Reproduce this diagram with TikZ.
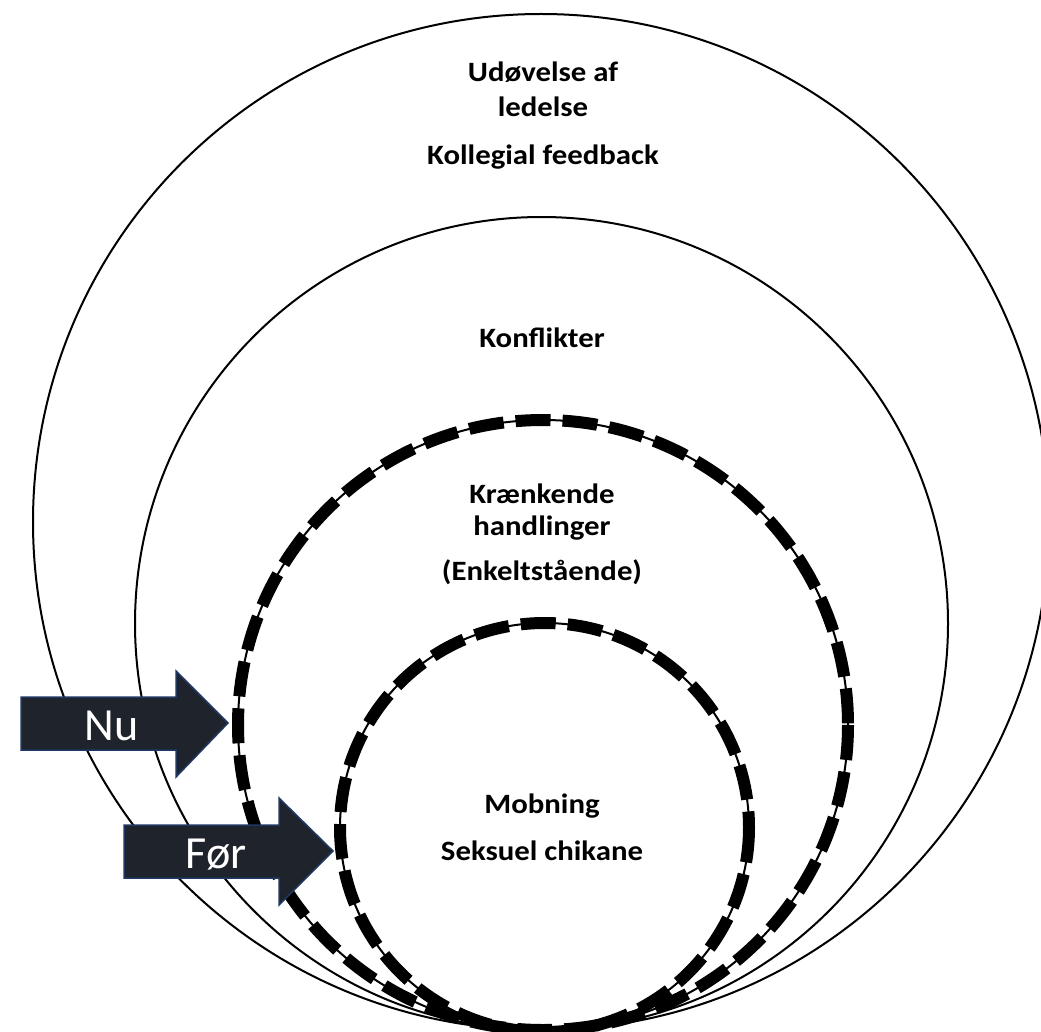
\documentclass[tikz,border=0pt]{standalone}
\usepackage{fontspec}
\newfontfamily\lblfont[FakeStretch=1.1]{Carlito}
\newfontfamily\arrfont{Carlito}
\definecolor{arrfill}{RGB}{31,35,43}
\definecolor{arrdraw}{RGB}{32,56,100}
\begin{document}
\begin{tikzpicture}[x=1pt,y=-1pt,
  ring/.style={draw=black, line width=2pt},
  thinring/.style={draw=black, line width=2pt},
  dashring/.style={draw=black, line width=12pt, dash pattern=on 35pt off 12pt},
  lbl/.style={font=\lblfont\bfseries\fontsize{28}{34}\selectfont, anchor=base, inner sep=0pt},
  arrowshape/.style={fill=arrfill, draw=arrdraw, line width=1.5pt, line join=miter},
  arrtext/.style={font=\arrfont\fontsize{46}{50}\selectfont, text=white, anchor=base, inner sep=0pt}]
\useasboundingbox (0,0) rectangle (1041,1032);
\clip (0,0) rectangle (1041,1032);
\fill[white] (0,0) rectangle (1041,1032);

% outer rings
\draw[ring] (541,522) circle [radius=508];
\draw[ring] (541.5,623.5) circle [radius=406.5];

% dashed rings
\draw[thinring] (543,725) circle [radius=305];
\draw[dashring] (543,725) circle [radius=305];
\draw[thinring] (544.5,827.5) circle [radius=204.5];
\draw[dashring] (544.5,827.5) circle [radius=204.5];

% labels
\node[lbl] (l1) at (543,82) {Udøvelse af};
\node[lbl] (l2) at (543,117) {ledelse};
\node[lbl] (l3) at (543,165) {Kollegial feedback};
\node[lbl] (l4) at (542,347) {Konflikter};
\node[lbl] (l5) at (542,503) {Krænkende};
\node[lbl] (l6) at (542,535) {handlinger};
\node[lbl] (l7) at (542,580) {(Enkeltstående)};
\node[lbl] (l8) at (542,813) {Mobning};
\node[lbl] (l9) at (542,860) {Seksuel chikane};

% arrows
\draw[arrowshape] (21,697) -- (176,697) -- (176,671) -- (228,723) -- (176,777) -- (176,750) -- (21,750) -- cycle;
\node[arrtext] (nu) at (111.5,740) {Nu};
\draw[arrowshape] (124,825) -- (279,825) -- (279,798) -- (333,851) -- (279,905) -- (279,878) -- (124,878) -- cycle;
\node[arrtext] (for) at (216,868) {Før};
\end{tikzpicture}
\end{document}
